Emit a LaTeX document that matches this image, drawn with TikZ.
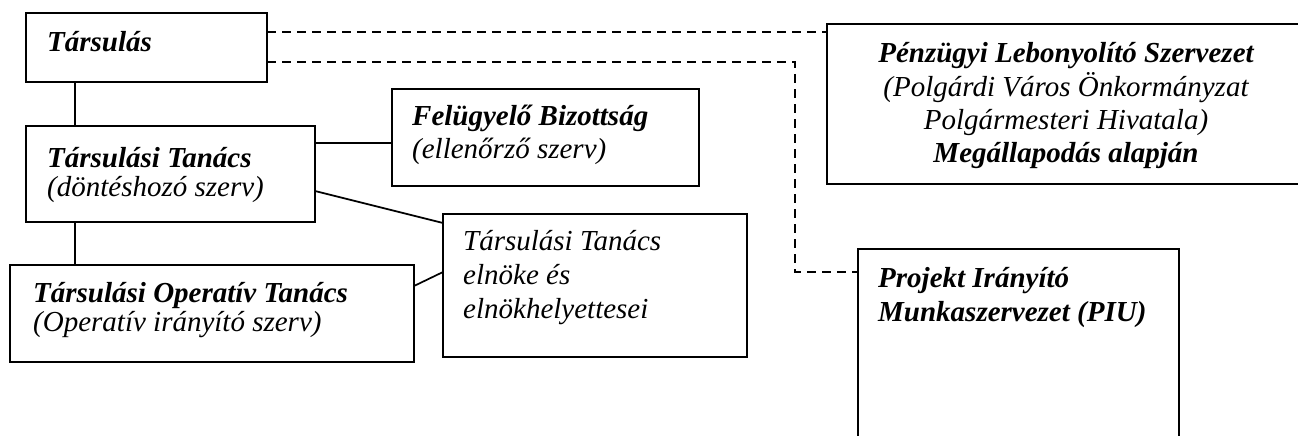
\documentclass[tikz,border=0pt]{standalone}
\usepackage{fontspec}
\setmainfont{Liberation Serif}
\usepackage{tikz}

\tikzset{
  box/.style={draw,line width=2pt,inner sep=0pt,outer sep=0pt,anchor=north west},
  txt/.style={anchor=base west,inner sep=0pt,font=\fontsize{29}{33}\selectfont\itshape},
  btxt/.style={txt,font=\fontsize{29}{33}\selectfont\bfseries\itshape},
  link/.style={line width=1.7pt},
  dlink/.style={line width=1.7pt,dash pattern=on 9pt off 6pt},
}

\begin{document}
\begin{tikzpicture}[x=1pt,y=-1pt]
  \useasboundingbox (0,0) rectangle (1298,436);
  \clip (0,0) rectangle (1298,436);

  % boxes
  \node[box,minimum width=241pt,minimum height=69pt] (tars) at (26,13) {};
  \node[box,minimum width=289pt,minimum height=96pt] (tanacs) at (26,126) {};
  \node[box,minimum width=307pt,minimum height=97pt] (felugy) at (392,89) {};
  \node[box,minimum width=404pt,minimum height=97pt] (operativ) at (10,265) {};
  \node[box,minimum width=304pt,minimum height=143pt] (elnoke) at (443,214) {};
  \node[box,minimum width=478pt,minimum height=160pt] (penz) at (827,24) {};
  \node[box,minimum width=321pt,minimum height=220pt] (piu) at (858,249) {};

  % texts
  \node[btxt] (tars-a) at (47,52) {Társulás};

  \node[btxt] (tanacs-a) at (47,167) {Társulási Tanács};
  \node[txt] (tanacs-b) at (47,196) {(döntéshozó szerv)};

  \node[btxt] (felugy-a) at (412,125) {Felügyelő Bizottság};
  \node[txt] (felugy-b) at (412,158) {(ellenőrző szerv)};

  \node[btxt] (operativ-a) at (33,302) {Társulási Operatív Tanács};
  \node[txt] (operativ-b) at (33,331) {(Operatív irányító szerv)};

  \node[txt] (elnoke-a) at (463,250) {Társulási Tanács};
  \node[txt] (elnoke-b) at (463,284) {elnöke és};
  \node[txt] (elnoke-c) at (463,318) {elnökhelyettesei};

  \node[btxt,anchor=base] (penz-a) at (1066,63) {Pénzügyi Lebonyolító Szervezet};
  \node[txt,anchor=base] (penz-b) at (1066,96) {(Polgárdi Város Önkormányzat};
  \node[txt,anchor=base] (penz-c) at (1066,129) {Polgármesteri Hivatala)};
  \node[btxt,anchor=base] (penz-d) at (1066,162) {Megállapodás alapján};

  \node[btxt] (piu-a) at (878,287) {Projekt Irányító};
  \node[btxt] (piu-b) at (878,321) {Munkaszervezet (PIU)};

  % solid connectors
  \draw[link] ([xshift=49pt]tars.south west) -- ([xshift=49pt]tanacs.north west);
  \draw[link] ([xshift=49pt]tanacs.south west) -- ([xshift=65pt]operativ.north west);
  \draw[link] ([yshift=-17pt]tanacs.north east) -- ([yshift=-54pt]felugy.north west);
  \draw[link] ([yshift=31pt]tanacs.south east) -- ([yshift=-9pt]elnoke.north west);
  \draw[link] ([yshift=-21pt]operativ.north east) -- ([yshift=-58pt]elnoke.north west);

  % dashed connectors
  \draw[dlink] ([yshift=-19pt]tars.north east) -- ([yshift=-8pt]penz.north west);
  \draw[dlink] ([yshift=-49pt]tars.north east) -- ++(528,0) |- ([yshift=-23pt]piu.north west);
\end{tikzpicture}
\end{document}
